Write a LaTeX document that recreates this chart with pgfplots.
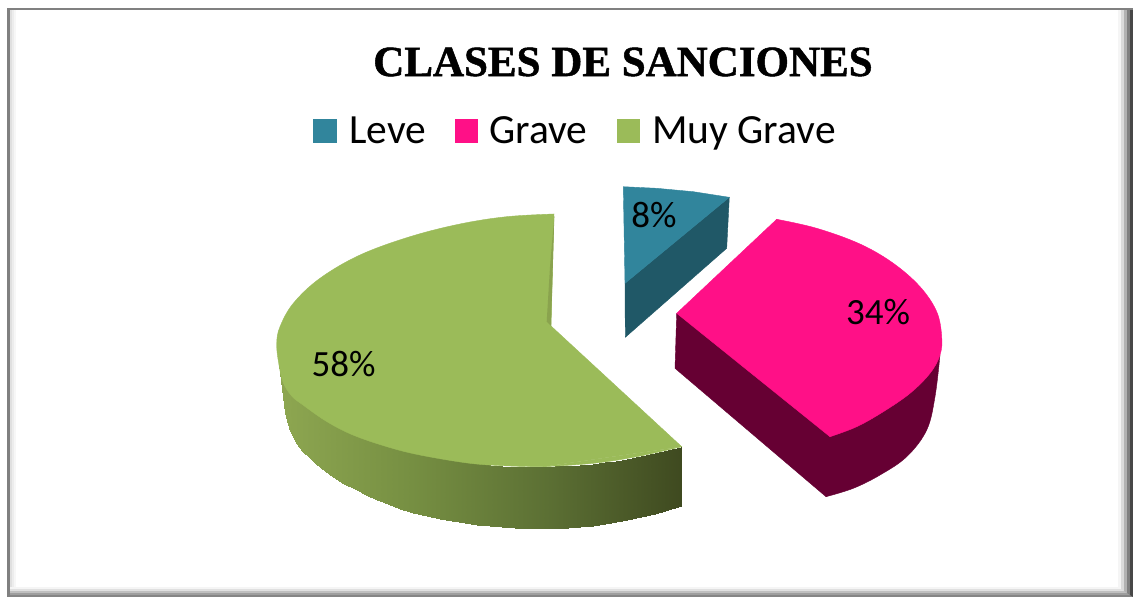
\documentclass[border=0pt]{standalone}
\usepackage{fontspec}
\setmainfont{Carlito}
\newfontfamily\titlefont[BoldFeatures={FakeBold=1.2}]{Liberation Serif}
\usepackage{pgfplots}
\pgfplotsset{compat=1.18}
\definecolor{blueT}{RGB}{49,133,156}
\definecolor{blueS}{RGB}{32,88,103}
\definecolor{pinkT}{RGB}{255,16,135}
\definecolor{pinkS}{RGB}{102,0,51}
\definecolor{greenT}{RGB}{155,187,89}
\definecolor{greenI}{RGB}{138,163,78}
\begin{document}
\begin{tikzpicture}
\begin{axis}[
  scale only axis, width=1133pt, height=597pt,
  xmin=0, xmax=1133, ymin=0, ymax=597, y dir=reverse,
  axis lines=none, clip=true,
  colormap={gr}{rgb255=(142,167,81) rgb255=(118,143,66) rgb255=(92,112,52) rgb255=(63,74,32)},
  point meta min=277, point meta max=681,
  every axis plot/.append style={line width=0.4pt},
]
% page extent
\path[fill=white] (axis cs:0,0) rectangle (axis cs:1133,597);
% frame
\foreach \i/\c in {0/96,1/88,2/75,3/62,4/52}{
  \edef\tmp{\noexpand\fill[black!\the\numexpr100-\c\relax!white] (axis cs:7,{587+2*\i}) rectangle (axis cs:1133,{587+2*\i+2});}
  \tmp
}
\foreach \i/\c in {0/96,1/86,2/70,3/50,4/28}{
  \edef\tmp{\noexpand\fill[black!\the\numexpr100-\c\relax!white] (axis cs:{1118+3*\i},10) -- (axis cs:{1118+3*\i+3},10) -- (axis cs:{1118+3*\i+3},{587+2*\i+2}) -- (axis cs:{1118+3*\i},{587+2*\i}) -- cycle;}
  \tmp
}
\fill[black!12] (axis cs:10,10) rectangle (axis cs:12,587);
\fill[black!7] (axis cs:12,10) rectangle (axis cs:14,587);
\fill[black!3] (axis cs:14,10) rectangle (axis cs:16,587);
\fill[black!50] (axis cs:7,8) rectangle (axis cs:1133,10);
\fill[black!50] (axis cs:7,8) rectangle (axis cs:10,597);

% Muy Grave: side wall
\addplot[surf, shader=interp, mesh/cols=43, point meta=explicit] coordinates {
(277,343)[277] (279,354)[279] (281,364)[281] (283,369)[283] (285,373)[285] (287,376.5)[287] (290,381)[290] (293,386)[293] (296,390)[296] (299,393.5)[299] (303,397.5)[303] (309,402.5)[309] (316,408)[316] (325,413)[325] (333,418)[333] (344,425)[344] (355,431)[355] (366,435)[366] (377,439)[377] (388,443)[388] (400,447)[400] (413,450.5)[413] (427,454)[427] (440,457.5)[440] (452,460)[452] (465,461.5)[465] (477,463)[477] (490,465)[490] (502,466)[502] (515,466.7)[515] (527,467)[527] (541,466.7)[541] (555,466)[555] (568,465.5)[568] (580,465)[580] (593,463.5)[593] (605,462)[605] (616,460.5)[616] (627,458.5)[627] (641,455.5)[641] (655,452.5)[655] (668,450)[668] (681,447)[681]
(277,345)[277] (279,365)[279] (281,380)[281] (283,397)[283] (285,413)[285] (287,421)[287] (290,431)[290] (293,437)[293] (296,442.5)[296] (299,447)[299] (303,451.7)[303] (309,457)[309] (316,463.5)[316] (325,470.5)[325] (333,476.5)[333] (344,483.5)[344] (355,489)[355] (366,495)[366] (377,499.5)[377] (388,504.3)[388] (400,509)[400] (413,512.5)[413] (427,516)[427] (440,518.7)[440] (452,521)[452] (465,523.2)[465] (477,524.7)[477] (490,526)[490] (502,527)[502] (515,527.7)[515] (527,528.2)[527] (541,528.4)[541] (555,528)[555] (568,527.7)[568] (580,526.7)[580] (593,525.5)[593] (605,524)[605] (616,522)[616] (627,520)[627] (641,517)[641] (655,513.5)[655] (668,510)[668] (681,506)[681]
};
% Muy Grave: top
\addplot[fill=greenT, draw=greenT, smooth, tension=0.6] coordinates {
(554,214) (506.7,216.7) (460,224) (410,236.7) (360,255) (320,278.3) (293.3,303.3) (280,326.7) (276.7,343.3) (278.5,362) (283,382) (291.7,396) (303,405) (327,421.7) (353,435) (387,446.7) (420,455) (470,463.3) (510,466) (543.3,466.7)
};
\addplot[fill=greenT, draw=greenT, smooth, tension=0.6] coordinates {
(543.3,466.7) (593.3,463.3) (636.7,456.7) (681.7,446.7)
};
\addplot[fill=greenT, draw=greenT] coordinates {
(554,214) (551,326) (681.7,446.7) (543.3,466.7) (480,400) (480,280)
} -- cycle;
\addplot[fill=greenI, draw=none] coordinates {
(554.3,216) (551,326) (546.7,321.7) (550,266.7)
} -- cycle;

% Leve
\addplot[fill=blueS, draw=blueS] coordinates {
(729.3,197.3) (726.7,248.3) (625.3,337.3) (625,283.3)
} -- cycle;
\addplot[fill=blueT, draw=blueT] coordinates {
(623.3,186.7) (656.7,188.3) (693.3,191.7) (729.3,197.3) (625,283.3)
} -- cycle;

% Grave
\addplot[fill=pinkS, draw=pinkS] coordinates {
(676.7,313.3) (675,368.3) (826,496.7) (900,440) (940,355) (776,300)
} -- cycle;
\addplot[fill=pinkS, draw=pinkS, smooth, tension=0.6] coordinates {
(826,496.7) (853.3,488.3) (880,475) (906.7,456.7) (926.7,430) (935,396.7) (940,355)
};
\addplot[fill=pinkT, draw=pinkT, smooth, tension=0.6] coordinates {
(776.7,219.3) (816.7,228.3) (860,244) (893.3,263.3) (920,286.7) (936.7,311.7) (941.7,336.7) (940,355) (930,373.3) (910,393.3) (883.3,411.7) (856.7,426.7) (830,436.7)
};
\addplot[fill=pinkT, draw=pinkT] coordinates {
(676.7,313.3) (776.7,219.3) (860,300) (830,436.7)
} -- cycle;

% legend keys
\addplot[fill=blueT, draw=none] coordinates {(313,119) (337,119) (337,143) (313,143)} -- cycle;
\addplot[fill=pinkT, draw=none] coordinates {(455,119) (478,119) (478,143) (455,143)} -- cycle;
\addplot[fill=greenT, draw=none] coordinates {(617,119) (640,119) (640,143) (617,143)} -- cycle;

% texts
\node[anchor=base, font=\titlefont\bfseries\fontsize{43}{43}\selectfont, inner sep=0pt] at (axis cs:623,76) {CLASES DE SANCIONES};
\node[anchor=base west, font=\fontsize{41.5}{41.5}\selectfont, inner sep=0pt] at (axis cs:349,143) {Leve};
\node[anchor=base west, font=\fontsize{41.5}{41.5}\selectfont, inner sep=0pt] at (axis cs:489,143) {Grave};
\node[anchor=base west, font=\fontsize{41.5}{41.5}\selectfont, inner sep=0pt] at (axis cs:652,143) {Muy Grave};
\node[anchor=base, font=\fontsize{37}{37}\selectfont, inner sep=0pt] at (axis cs:343.5,376) {58\%};
\node[anchor=base, font=\fontsize{37}{37}\selectfont, inner sep=0pt] at (axis cs:654,227) {8\%};
\node[anchor=base, font=\fontsize{37}{37}\selectfont, inner sep=0pt] at (axis cs:878,324) {34\%};
\end{axis}
\end{tikzpicture}
\end{document}
